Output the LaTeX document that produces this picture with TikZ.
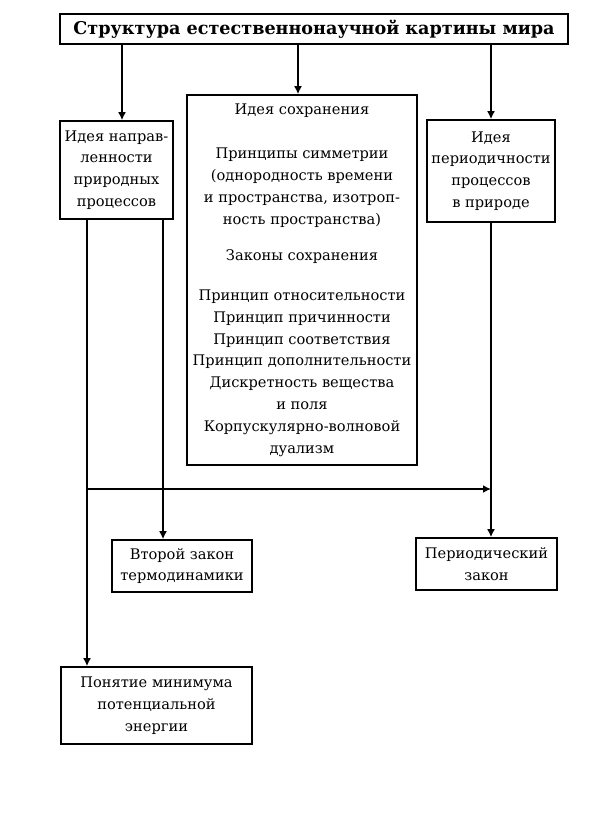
\documentclass[tikz,border=0pt]{standalone}
\usepackage{fontspec}
\setmainfont{DejaVu Serif}
\usetikzlibrary{arrows.meta}

\begin{document}
\begin{tikzpicture}[x=0.5pt,y=-0.5pt,
	box/.style={draw, line width=0.8pt, align=center, inner sep=0pt, font=\fontsize{7.3}{10.9}\selectfont},
	arr/.style={line width=0.8pt, -{Latex[length=4pt,width=4pt]}}]
	\useasboundingbox (0,0) rectangle (600,836);
	\node (title) [box, line width=1pt, minimum width=254pt, minimum height=15pt, font=\fontsize{8.8}{11}\selectfont\bfseries] at (314,29) {Структура естественнонаучной картины мира};
	\node (napr) [box, minimum width=56.5pt, minimum height=49pt] at (116.5,170) {Идея направ-\\ленности\\природных\\процессов};
	\node (sohr) [box, minimum width=115pt, minimum height=185pt] at (302,280) {Идея сохранения\\[11.3pt]
		Принципы симметрии\\(однородность времени\\и пространства, изотроп-\\ность пространства)\\[7.3pt]
		Законы сохранения\\[9pt]
		Принцип относительности\\Принцип причинности\\Принцип соответствия\\Принцип дополнительности\\Дискретность вещества\\и поля\\Корпускулярно-волновой\\дуализм};
	\node (period) [box, minimum width=64pt, minimum height=51pt] at (491,171) {Идея\\периодичности\\процессов\\в природе};
	\node (termo) [box, minimum width=70pt, minimum height=26pt] at (182,566) {Второй закон\\термодинамики};
	\node (perlaw) [box, minimum width=70.5pt, minimum height=26pt] at (486.5,564) {Периодический\\закон};
	\node (minim) [box, minimum width=95.5pt, minimum height=38.5pt] at (156.5,705.5) {Понятие минимума\\потенциальной\\энергии};
	\coordinate (fork) at (87,489);
	\draw[arr] ([xshift=2.75pt]napr.north |- title.south) -- ([xshift=2.75pt]napr.north);
	\draw[arr] ([xshift=-2pt]sohr.north |- title.south) -- ([xshift=-2pt]sohr.north);
	\draw[arr] (period.north |- title.south) -- (period.north);
	\draw[arr] ([xshift=-14.75pt]napr.south) -- ([xshift=-14.75pt]napr.south |- minim.north);
	\draw[arr] ([xshift=23.25pt]napr.south) -- ([xshift=23.25pt]napr.south |- termo.north);
	\draw[arr] (fork) -- (fork -| period.south);
	\draw[arr] (period.south) -- (period.south |- perlaw.north);
\end{tikzpicture}
\end{document}
